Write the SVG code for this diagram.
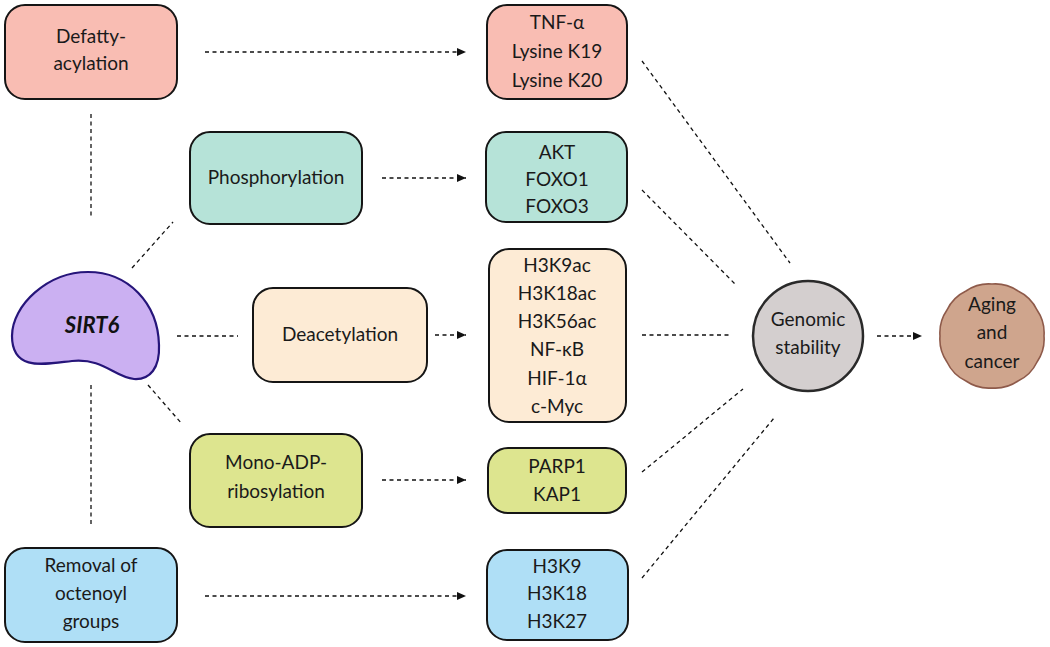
<svg xmlns="http://www.w3.org/2000/svg" width="1050" height="647" viewBox="0 0 1050 647">
<defs>
<marker id="ah" markerUnits="userSpaceOnUse" markerWidth="9" markerHeight="8" refX="9" refY="4" orient="auto">
<path d="M0,0 L9,4 L0,8 Z" fill="#111"/>
</marker>
<style>
.box{stroke:#151515;stroke-width:2}
.t{font-family:Lato,"Open Sans","Liberation Sans",sans-serif;font-size:19px;fill:#1a1a1a;text-anchor:middle}
.c{fill:none;stroke:#111;stroke-width:1.3;stroke-dasharray:4 3.5}
.a{marker-end:url(#ah)}
</style>
</defs>
<rect width="1050" height="647" fill="#fff"/>
<g id="connectors">
<line class="c a" x1="205" y1="52" x2="466" y2="52"/>
<line class="c a" x1="382" y1="178" x2="466" y2="178"/>
<line class="c a" x1="435" y1="335" x2="466" y2="335"/>
<line class="c a" x1="382" y1="480" x2="466" y2="480"/>
<line class="c a" x1="205" y1="596" x2="466" y2="596"/>
<line class="c" x1="91" y1="114" x2="91" y2="218"/>
<line class="c" x1="91" y1="385" x2="91" y2="527"/>
<line class="c" x1="132" y1="268" x2="173" y2="222"/>
<line class="c" x1="177" y1="336" x2="238" y2="336"/>
<line class="c" x1="148" y1="385" x2="182" y2="424"/>
<line class="c" x1="642" y1="61" x2="790" y2="263"/>
<line class="c" x1="642" y1="190" x2="735" y2="284"/>
<line class="c" x1="642" y1="335" x2="729" y2="335"/>
<line class="c" x1="642" y1="472" x2="743" y2="389"/>
<line class="c" x1="642" y1="578" x2="774" y2="418"/>
<line class="c a" x1="877" y1="336" x2="922" y2="336"/>
</g>
<g id="sirt6">
<path d="M12,336 C12,305 48,272 88,272 C128,272 158,303 159,345 C160,368 150,380 134,379 C114,377 104,358 72,361 C45,364 12,372 12,336 Z" fill="#cbb0f2" stroke="#26157a" stroke-width="2.2"/>
<text x="92" y="333" font-family="Lato,'Open Sans','Liberation Sans',sans-serif" font-size="22" font-weight="bold" font-style="italic" text-anchor="middle" fill="#111">SIRT6</text>
</g>
<g id="defatty">
<rect class="box" x="5" y="5" width="172" height="94" rx="20" fill="#f9bdb3"/>
<text class="t" x="91" y="43">Defatty-</text>
<text class="t" x="91" y="70">acylation</text>
</g>
<g id="phospho">
<rect class="box" x="190" y="132" width="172" height="92" rx="20" fill="#b6e3d8"/>
<text class="t" x="276" y="184">Phosphorylation</text>
</g>
<g id="deacetylation">
<rect class="box" x="253" y="288" width="174" height="94" rx="20" fill="#fdebd5"/>
<text class="t" x="340" y="341">Deacetylation</text>
</g>
<g id="monoadp">
<rect class="box" x="190" y="434" width="172" height="93" rx="20" fill="#dde58f"/>
<text class="t" x="276" y="469">Mono-ADP-</text>
<text class="t" x="276" y="498">ribosylation</text>
</g>
<g id="removal">
<rect class="box" x="5" y="548" width="172" height="94" rx="20" fill="#afdff6"/>
<text class="t" x="91" y="572">Removal of</text>
<text class="t" x="91" y="600">octenoyl</text>
<text class="t" x="91" y="628">groups</text>
</g>
<g id="tnf">
<rect class="box" x="487" y="5" width="140" height="94" rx="20" fill="#f9bdb3"/>
<text class="t" x="557" y="29">TNF-α</text>
<text class="t" x="557" y="58">Lysine K19</text>
<text class="t" x="557" y="87">Lysine K20</text>
</g>
<g id="akt">
<rect class="box" x="486" y="132" width="141" height="90" rx="20" fill="#b6e3d8"/>
<text class="t" x="557" y="159">AKT</text>
<text class="t" x="557" y="186">FOXO1</text>
<text class="t" x="557" y="213">FOXO3</text>
</g>
<g id="histones">
<rect class="box" x="489" y="249" width="137" height="173" rx="20" fill="#fdebd5"/>
<text class="t" x="557" y="272">H3K9ac</text>
<text class="t" x="557" y="300">H3K18ac</text>
<text class="t" x="557" y="328">H3K56ac</text>
<text class="t" x="557" y="356">NF-κB</text>
<text class="t" x="557" y="385">HIF-1α</text>
<text class="t" x="557" y="413">c-Myc</text>
</g>
<g id="parp">
<rect class="box" x="488" y="448" width="138" height="65" rx="20" fill="#dde58f"/>
<text class="t" x="557" y="473">PARP1</text>
<text class="t" x="557" y="501">KAP1</text>
</g>
<g id="h3k">
<rect class="box" x="487" y="550" width="141" height="90" rx="20" fill="#afdff6"/>
<text class="t" x="557" y="573">H3K9</text>
<text class="t" x="557" y="600">H3K18</text>
<text class="t" x="557" y="628">H3K27</text>
</g>
<g id="genomic">
<circle cx="808" cy="336" r="55" fill="#d4cfcf" stroke="#2a2a2a" stroke-width="2.5"/>
<text class="t" x="808" y="326">Genomic</text>
<text class="t" x="808" y="354">stability</text>
</g>
<g id="aging">
<path d="M1044,336 A40,40 0 0 1 1037.03,362 A40,40 0 0 1 1018,381.03 A40,40 0 0 1 992,388 A40,40 0 0 1 966,381.03 A40,40 0 0 1 946.97,362 A40,40 0 0 1 940,336 A40,40 0 0 1 946.97,310 A40,40 0 0 1 966,290.97 A40,40 0 0 1 992,284 A40,40 0 0 1 1018,290.97 A40,40 0 0 1 1037.03,310 A40,40 0 0 1 1044,336 Z" fill="#cfa58d" stroke="#8e5a4a" stroke-width="1.6"/>
<text class="t" x="992" y="311">Aging</text>
<text class="t" x="992" y="339">and</text>
<text class="t" x="992" y="368">cancer</text>
</g>
</svg>
